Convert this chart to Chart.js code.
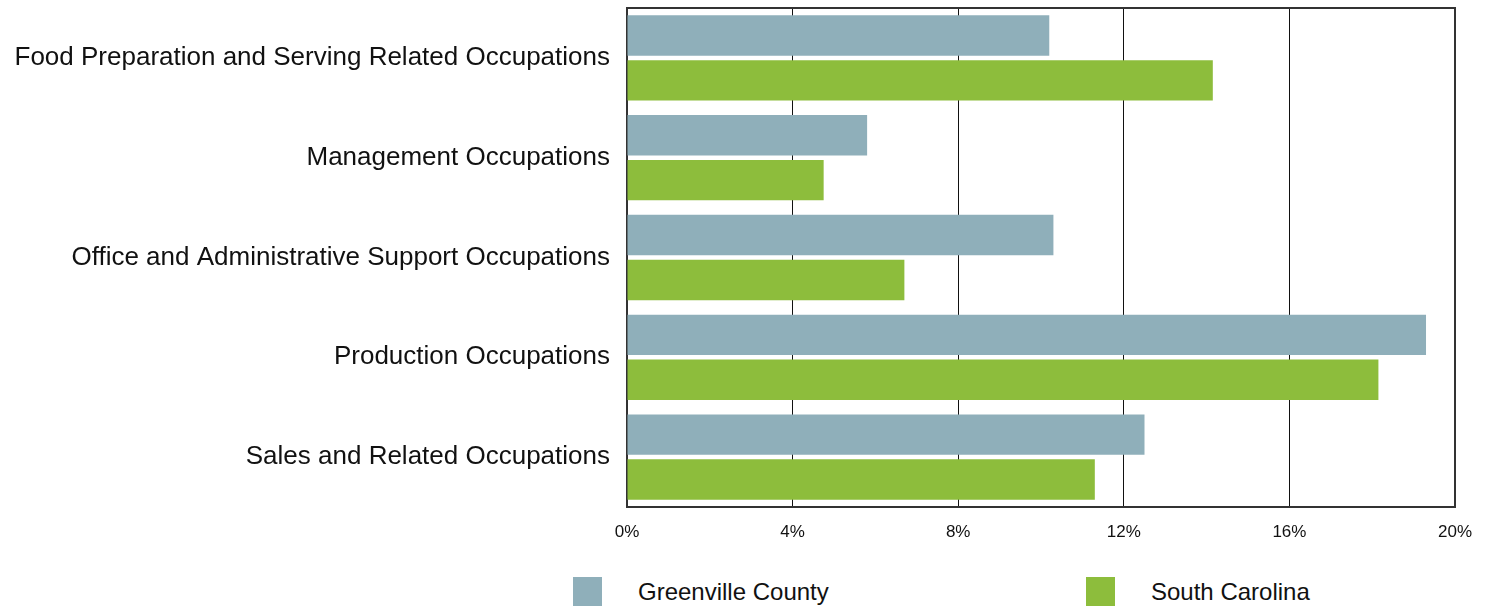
<!DOCTYPE html>
<html>
<head>
<meta charset="utf-8">
<script src="https://cdn.jsdelivr.net/npm/chart.js@4"></script>
<style>
  body { margin: 0; background: #fff; font-family: "Liberation Sans", Arial, sans-serif; }
  #wrap { position: relative; width: 1488px; height: 606px; }
  #chart-box { position: absolute; left: 0; top: 0; width: 1488px; height: 560px; }
  .legend-item { position: absolute; top: 577px; display: flex; align-items: center; font-size: 24px; color: #111; }
  .legend-item span.box { display: inline-block; width: 29px; height: 29px; margin-right: 36px; }
</style>
</head>
<body>
<div id="wrap">
  <div id="chart-box"><canvas id="chart"></canvas></div>
  <div class="legend-item" style="left:573px"><span class="box" style="background:#8FAFBA"></span>Greenville County</div>
  <div class="legend-item" style="left:1086px"><span class="box" style="background:#8DBD3C"></span>South Carolina</div>
</div>
<script>
const categories = [
  "Food Preparation and Serving Related Occupations",
  "Management Occupations",
  "Office and Administrative Support Occupations",
  "Production Occupations",
  "Sales and Related Occupations",
];
const greenville = [10.2, 5.8, 10.3, 19.3, 12.5];
const southCarolina = [14.15, 4.75, 6.7, 18.15, 11.3];
const xTicks = [0, 4, 8, 12, 16, 20];

// plot frame sits under the bars, like in the original
const frame = {
  id: "frame",
  beforeDatasetsDraw(chart) {
    const { ctx, chartArea: a } = chart;
    ctx.save();
    ctx.strokeStyle = "#333";
    ctx.lineWidth = 2;
    ctx.strokeRect(a.left, a.top, a.right - a.left, a.bottom - a.top);
    ctx.restore();
  },
};

new Chart(document.getElementById("chart"), {
  type: "bar",
  data: {
    labels: categories,
    datasets: [
      { label: "Greenville County", data: greenville, backgroundColor: "#8FAFBA" },
      { label: "South Carolina", data: southCarolina, backgroundColor: "#8DBD3C" },
    ],
  },
  options: {
    indexAxis: "y",
    responsive: true,
    maintainAspectRatio: false,
    animation: false,
    categoryPercentage: 0.9,
    barPercentage: 0.9,
    layout: { padding: { top: 8, right: 33, left: 0, bottom: 0 } },
    plugins: { legend: { display: false }, tooltip: { enabled: false } },
    scales: {
      x: {
        min: 0,
        max: 20,
        afterBuildTicks: (scale) => {
          scale.ticks = xTicks.map((v) => ({ value: v }));
        },
        afterFit: (scale) => { scale.height = 53; },
        grid: { color: "#111", lineWidth: 1, drawTicks: false },
        border: { display: false },
        ticks: {
          padding: 15,
          color: "#111",
          font: { family: "Liberation Sans", size: 17 },
          callback: (v) => v + "%",
        },
      },
      y: {
        afterFit: (scale) => {
          scale.width = 627;
          scale.paddingTop = 0;
          scale.paddingBottom = 0;
        },
        grid: { display: false },
        border: { color: "#333", width: 2 },
        ticks: {
          padding: 9,
          color: "#111",
          font: { family: "Liberation Sans", size: 26 },
        },
      },
    },
  },
  plugins: [frame],
});
</script>
</body>
</html>
